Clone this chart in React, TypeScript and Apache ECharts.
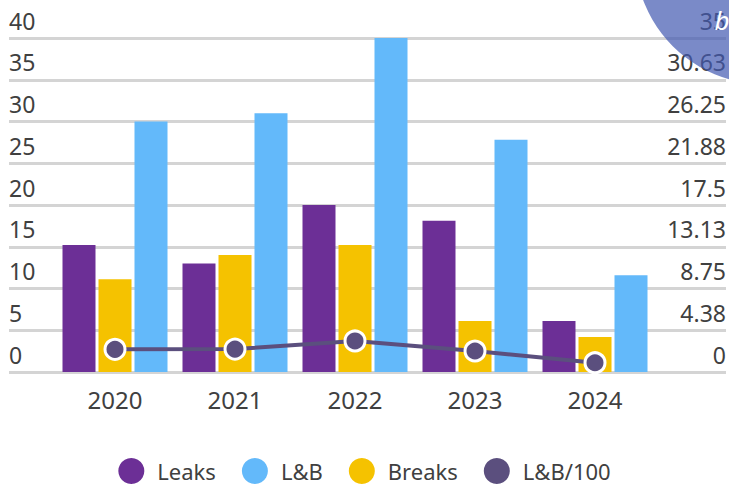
import React, { useEffect, useRef } from "react";
import * as echarts from "echarts";

const categories = ["2020", "2021", "2022", "2023", "2024"];
const leaks = [15.2, 13.0, 20.0, 18.1, 6.1];
const breaks = [11.1, 14.0, 15.2, 6.1, 4.2];
const lb = [30.0, 31.0, 40.0, 27.8, 11.6];
const lb100 = [2.38, 2.4, 3.25, 2.2, 0.97];
const rightTickLabels = ["0", "4.38", "8.75", "13.13", "17.5", "21.88", "26.25", "30.63", "35"];

const FONT = "Noto Sans";
const TXT = "#404040";

export default function App() {
  const ref = useRef<HTMLDivElement>(null);
  useEffect(() => {
    document.body.style.margin = "0";
    const chart = echarts.init(ref.current!, null, { renderer: "svg" });
    const labelStyle = { fontFamily: FONT, fontSize: 23, color: TXT };
    chart.setOption({
      animation: false,
      textStyle: { fontFamily: FONT },
      grid: [
        { left: 9, right: 2, top: 38, bottom: 114 },
        { left: 55, right: 74, top: 38, bottom: 114 },
      ],
      xAxis: [
        { gridIndex: 0, type: "value", show: false, min: 0, max: 1 },
        {
          gridIndex: 1,
          type: "category",
          data: categories,
          axisLine: { show: false },
          axisTick: { show: false },
          axisLabel: { fontFamily: FONT, fontSize: 24, color: TXT, margin: 15 },
        },
      ],
      yAxis: [
        {
          gridIndex: 0,
          type: "value",
          min: 0,
          max: 40,
          interval: 5,
          position: "left",
          axisLine: { show: false },
          axisTick: { show: false },
          splitLine: { lineStyle: { color: "#d4d4d4", width: 3 } },
          axisLabel: {
            ...labelStyle,
            inside: true,
            margin: 0,
            align: "left",
            verticalAlign: "bottom",
            lineHeight: 35,
          },
        },
        {
          gridIndex: 0,
          type: "value",
          min: 0,
          max: 35,
          interval: 4.375,
          position: "right",
          axisLine: { show: false },
          axisTick: { show: false },
          splitLine: { show: false },
          axisLabel: {
            ...labelStyle,
            inside: true,
            margin: 0,
            align: "right",
            verticalAlign: "bottom",
            lineHeight: 35,
            formatter: (_v: number, i: number) => rightTickLabels[i] ?? "",
          },
        },
        { gridIndex: 1, type: "value", min: 0, max: 40, show: false },
        { gridIndex: 1, type: "value", min: 0, max: 35, show: false },
      ],
      legend: {
        top: 458,
        left: "center",
        padding: 0,
        icon: "circle",
        itemWidth: 26,
        itemHeight: 26,
        itemGap: 26,
        textStyle: { fontFamily: FONT, fontSize: 22, color: TXT, padding: [0, 0, 0, 8] },
        itemStyle: { borderWidth: 0 },
        data: ["Leaks", "L&B", "Breaks", "L&B/100"],
      },
      series: [
        {
          name: "Leaks",
          type: "bar",
          xAxisIndex: 1,
          yAxisIndex: 2,
          data: leaks,
          barWidth: 33,
          barGap: "9.1%",
          itemStyle: { color: "#6c2f96" },
        },
        {
          name: "Breaks",
          type: "bar",
          xAxisIndex: 1,
          yAxisIndex: 2,
          data: breaks,
          barWidth: 33,
          barGap: "9.1%",
          itemStyle: { color: "#f5c200" },
        },
        {
          name: "L&B",
          type: "bar",
          xAxisIndex: 1,
          yAxisIndex: 2,
          data: lb,
          barWidth: 33,
          barGap: "9.1%",
          itemStyle: { color: "#63b9fa" },
        },
        {
          name: "L&B/100",
          type: "line",
          xAxisIndex: 1,
          yAxisIndex: 3,
          data: lb100,
          symbol: "circle",
          symbolSize: 20,
          lineStyle: { color: "#5b4f7e", width: 4 },
          itemStyle: { color: "#5b4f7e", borderColor: "#ffffff", borderWidth: 3 },
          z: 5,
        },
      ],
      graphic: [
        {
          type: "circle",
          shape: { cx: 764, cy: -45, r: 129 },
          style: { fill: "rgba(66,88,176,0.7)" },
          z: 100,
        },
        {
          type: "text",
          x: 722,
          y: 20,
          style: {
            text: "b",
            fill: "#ffffff",
            fontSize: 26,
            fontStyle: "italic",
            fontFamily: FONT,
            align: "center",
            verticalAlign: "middle",
          },
          z: 101,
        },
      ],
    });
    return () => chart.dispose();
  }, []);
  return <div ref={ref} style={{ width: 729, height: 486 }} />;
}
